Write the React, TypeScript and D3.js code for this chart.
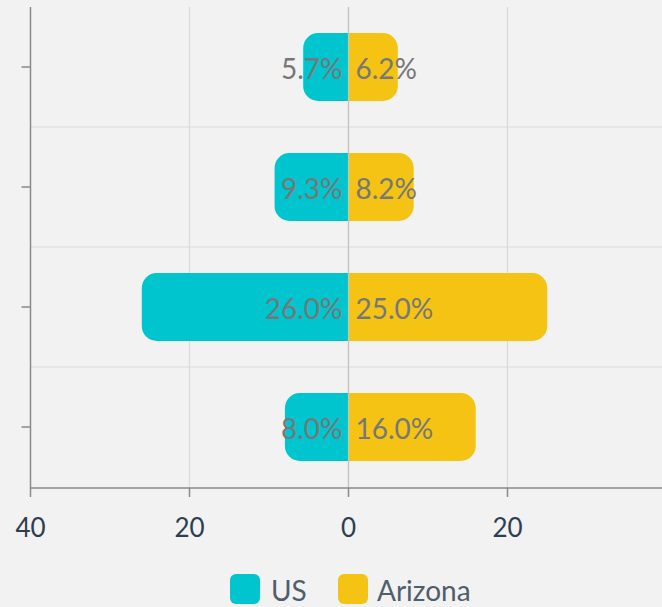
import React from "react";
import * as d3 from "d3";

const categories = ["A", "B", "C", "D"];
const usValues = [5.7, 9.3, 26.0, 8.0];
const azValues = [6.2, 8.2, 25.0, 16.0];
const seriesNames = ["US", "Arizona"];
const xTicks = [-40, -20, 0, 20];

const W = 662;
const H = 607;
const US_COLOR = "#00c4ce";
const AZ_COLOR = "#f4c314";
const FONT = "Lato, 'Open Sans', sans-serif";

function barPath(x0: number, x1: number, y: number, h: number, r: number) {
  const dir = x1 >= x0 ? 1 : -1;
  const len = Math.abs(x1 - x0);
  const rr = Math.min(r, len, h / 2);
  const p = d3.path();
  p.moveTo(x0, y);
  p.lineTo(x1 - dir * rr, y);
  p.arcTo(x1, y, x1, y + rr, rr);
  p.lineTo(x1, y + h - rr);
  p.arcTo(x1, y + h, x1 - dir * rr, y + h, rr);
  p.lineTo(x0, y + h);
  p.closePath();
  return p.toString();
}

export default function App() {
  const x = d3.scaleLinear().domain([-40, 40]).range([30.5, 666.5]);
  const y = d3.scaleBand().domain(categories).range([7, 487]).paddingInner(0).paddingOuter(0);
  const bandH = y.bandwidth();
  const barH = 68;
  const axisY = 488;

  return (
    <svg width={W} height={H} style={{ position: "absolute", left: 0, top: 0, background: "#f2f2f2" }}>
      <rect x={0} y={0} width={W} height={H} fill="#f2f2f2" />
      {xTicks.filter((t) => t !== -40).map((t) => (
        <line key={"vg" + t} x1={x(t)} x2={x(t)} y1={7} y2={axisY} stroke={t === 0 ? "#c4c4c4" : "#dadada"} strokeWidth={1.2} />
      ))}
      {categories.slice(1).map((c) => (
        <line key={"hg" + c} x1={x(-40)} x2={W} y1={y(c)!} y2={y(c)!} stroke="#dadada" strokeWidth={1.2} />
      ))}
      {categories.map((c, i) => {
        const cy = y(c)! + bandH / 2;
        const top = cy - barH / 2;
        return (
          <g key={"b" + c}>
            <path d={barPath(x(0), x(-usValues[i]), top, barH, 15)} fill={US_COLOR} />
            <path d={barPath(x(0), x(azValues[i]), top, barH, 15)} fill={AZ_COLOR} />
          </g>
        );
      })}
      <line x1={x(0)} x2={x(0)} y1={7} y2={axisY} stroke="#c4c4c4" strokeWidth={1.2} />
      {categories.map((c, i) => {
        const cy = y(c)! + bandH / 2;
        return (
          <g key={"l" + c} fontFamily={FONT} fontSize={28} fill="#777777">
            <text x={x(0) - 6} y={cy + 1} textAnchor="end" dominantBaseline="central">
              {usValues[i].toFixed(1) + "%"}
            </text>
            <text x={x(0) + 7} y={cy + 1} textAnchor="start" dominantBaseline="central">
              {azValues[i].toFixed(1) + "%"}
            </text>
          </g>
        );
      })}
      <line x1={x(-40)} x2={x(-40)} y1={7} y2={axisY} stroke="#8a8a8a" strokeWidth={1.5} />
      {categories.map((c) => {
        const cy = y(c)! + bandH / 2;
        return <line key={"yt" + c} x1={x(-40) - 9} x2={x(-40)} y1={cy} y2={cy} stroke="#8a8a8a" strokeWidth={1.5} />;
      })}
      <text transform={`translate(-5, 292) rotate(-90)`} textAnchor="middle" fontFamily={FONT} fontSize={22} fill="#2c3e50">
        Age group
      </text>
      <line x1={x(-40)} x2={W} y1={axisY} y2={axisY} stroke="#8a8a8a" strokeWidth={1.5} />
      {xTicks.map((t) => (
        <g key={"xt" + t}>
          <line x1={x(t)} x2={x(t)} y1={axisY} y2={axisY + 9} stroke="#8a8a8a" strokeWidth={1.5} />
          <text x={x(t)} y={527} textAnchor="middle" dominantBaseline="central" fontFamily={FONT} fontSize={26} fill="#2c3e50">
            {Math.abs(t)}
          </text>
        </g>
      ))}
      <g fontFamily={FONT} fontSize={28} fill="#505d6d">
        <rect x={230} y={574} width={30} height={30} rx={6} fill={US_COLOR} />
        <text x={271} y={590} dominantBaseline="central">{seriesNames[0]}</text>
        <rect x={338} y={574} width={30} height={30} rx={6} fill={AZ_COLOR} />
        <text x={377} y={590} dominantBaseline="central">{seriesNames[1]}</text>
      </g>
    </svg>
  );
}
